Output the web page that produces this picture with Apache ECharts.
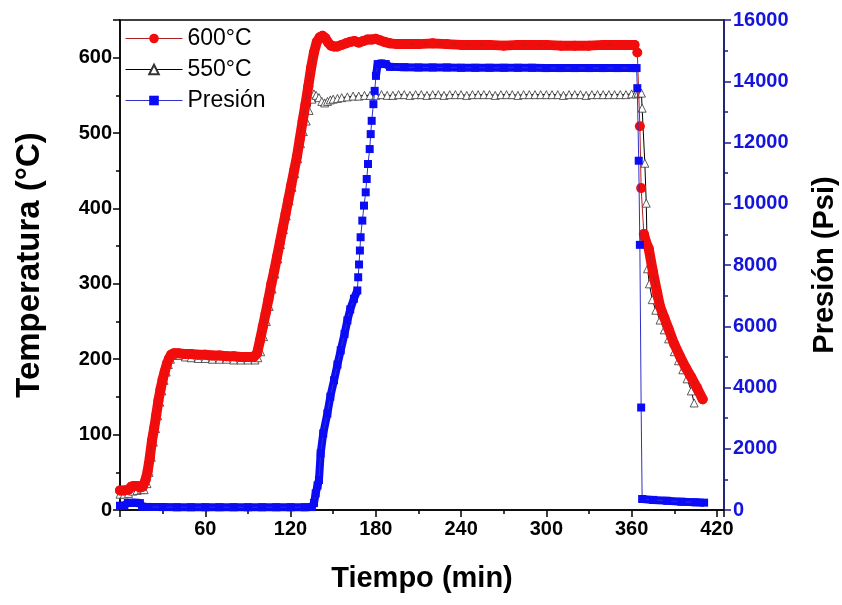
<!DOCTYPE html>
<html>
<head>
<meta charset="utf-8">
<script src="https://cdn.jsdelivr.net/npm/echarts@6/dist/echarts.min.js"></script>
<style>
  html, body { margin: 0; padding: 0; background: #fff; }
  #chart { width: 842px; height: 605px; }
</style>
</head>
<body>
<div id="chart"></div>
<script>
// tiempo (min) y temperatura (°C) del ensayo a 600°C
const t600 = [
  0, 3, 6, 8, 10, 12, 14, 16, 18, 19.5,
  21, 22.5, 24, 25.5, 27, 28.5, 30, 31.5, 33, 34.5,
  36, 38, 41, 45, 50, 55, 60, 65, 70, 75,
  80, 85, 90, 94, 96.5, 98.5, 100.5, 102.5, 104.5, 106.5,
  108.5, 110.5, 112.5, 114.5, 116.5, 118.5, 120.5, 122.5, 124.5, 126.5,
  128.5, 130.5, 132.5, 134.5, 136.5, 138.5, 140.5, 142.5, 144.5, 146.5,
  148.5, 150.5, 153, 156, 159, 162, 165, 168, 171, 174,
  177, 180, 183, 186, 190, 195, 200, 210, 220, 230,
  240, 250, 260, 270, 280, 290, 300, 310, 320, 330,
  340, 350, 356, 362, 364, 365.8, 366.7, 368.6, 370, 372,
  375, 378, 380, 383, 386, 390, 394, 398, 402, 406,
  410
];
const temp600 = [
  26, 26, 27, 31, 32, 32, 30, 31, 40, 52,
  70, 92, 108, 126, 145, 160, 173, 184, 194, 201,
  206, 208, 208, 207, 207, 206, 206, 205, 205, 204,
  204, 203, 203, 203, 208, 225, 243, 261, 280, 300,
  317, 336, 355, 374, 393, 412, 431, 450, 469, 492,
  516, 538, 562, 587, 607, 621, 627, 629, 626, 620,
  616, 615, 615, 617, 619, 621, 622, 620, 622, 624,
  624, 625, 623, 621, 619, 618, 618, 618, 619, 618,
  617, 617, 617, 616, 617, 617, 617, 616, 616, 616,
  617, 617, 617, 617, 607, 509, 427, 366, 356, 347,
  316, 288, 270, 255, 240, 220, 204, 189, 176, 162,
  147
];

// ensayo a 550°C
const t550 = [
  0, 3, 6, 9, 12, 15, 17, 19, 20.5, 22,
  23.5, 25, 26.5, 28, 29.5, 31, 32.5, 34, 35.5, 37,
  39, 42, 46, 50, 55, 60, 65, 70, 75, 80,
  85, 90, 95, 97, 99, 101, 103, 105, 107, 109,
  111, 113, 115, 117, 119, 121, 123, 125, 127, 129,
  131, 133, 135, 136.5, 138, 140, 142, 144, 146, 148,
  150, 153, 156, 160, 164, 168, 172, 176, 180, 184,
  188, 192, 196, 200, 204, 208, 212, 216, 220, 224,
  228, 232, 236, 240, 244, 248, 252, 256, 260, 264,
  268, 272, 276, 280, 284, 288, 292, 296, 300, 304,
  308, 312, 316, 320, 324, 328, 332, 336, 340, 344,
  348, 352, 356, 360, 363, 364.5, 366.9, 367.4, 369.3, 370.3,
  371.2, 372.5, 374.5, 377, 380, 383, 386, 390, 393, 396,
  399, 402, 404
];
const temp550 = [
  21, 21, 22, 25, 26, 27, 27, 35, 50, 70,
  90, 108, 125, 143, 158, 172, 183, 193, 200, 205,
  206, 205, 203, 202, 201, 201, 200, 200, 200, 199,
  199, 199, 199, 202, 210, 230, 250, 270, 293, 313,
  333, 352, 372, 390, 410, 428, 446, 466, 486, 502,
  516, 530, 545, 552, 550, 547, 542, 540, 542, 544,
  545, 546, 547, 548, 549, 549, 550, 550, 550, 551,
  550, 550, 551, 551, 550, 551, 551, 550, 551, 551,
  550, 551, 551, 551, 550, 551, 551, 551, 551, 550,
  551, 551, 551, 550, 551, 551, 551, 551, 551, 551,
  551, 550, 551, 551, 551, 550, 551, 551, 551, 551,
  551, 551, 551, 552, 552, 553, 553, 533, 460, 407,
  320, 300, 279, 265, 252, 239, 227, 210, 198, 186,
  174, 158, 142
];

// presión (Psi)
const tPres = [
  0, 3, 5.5, 8, 11, 14, 15.5, 20, 30, 40,
  50, 60, 70, 80, 90, 100, 110, 120, 130, 135,
  136.5, 137.7, 139, 140, 141.2, 143, 145.9, 148, 150.6, 153,
  155.3, 158, 160, 162, 164.6, 167, 167.6, 168.2, 168.8, 169.3,
  170.5, 171.7, 172.9, 173.6, 174.5, 175.7, 176.4, 177.1, 178.3, 179.2,
  180.1, 181.3, 184, 187, 190, 200, 210, 220, 230, 240,
  250, 260, 270, 280, 290, 300, 310, 320, 330, 340,
  350, 360, 363.5, 364, 365, 365.8, 366.7, 367.4, 375, 385,
  395, 405, 411
];
const presion = [
  140, 140, 230, 235, 235, 225, 110, 100, 95, 90,
  90, 90, 90, 90, 90, 90, 90, 90, 90, 95,
  230, 544, 800, 980, 1850, 2500, 3150, 3700, 4236, 4750,
  5214, 5750, 6191, 6550, 6898, 7169, 7600, 8017, 8473, 8906,
  9450, 9939, 10373, 10808, 11297, 11786, 12274, 12708, 13251, 13686,
  14175, 14560, 14580, 14560, 14470, 14460, 14450, 14450, 14450, 14440,
  14440, 14440, 14440, 14440, 14440, 14430, 14430, 14430, 14430, 14430,
  14430, 14430, 14430, 13774, 11405, 8658, 3346, 360, 330, 300,
  270, 250, 240
];

const xTicks = { min: 0, max: 425, interval: 60 };
const tempTicks = { min: 0, max: 650, interval: 100 };
const presTicks = { min: 0, max: 16000, interval: 2000 };

const FONT = "'Liberation Sans', Arial, sans-serif";
const RED = "#f20d0d";
const BLUE = "#0b0bf5";
const NAVY = "#1c1c8c";

const toPairs = (xs, ys) => xs.map((x, i) => [x, ys[i]]);
// misma serie, pero cortada donde los puntos están separados
const band = (xs, ys, sparse) => xs.map((x, i) => [x, sparse(x) ? "-" : ys[i]]);

const chart = echarts.init(document.getElementById("chart"));

const axisCommon = (color) => ({
  axisLine: { show: true, lineStyle: { color: color, width: 1.5 } },
  axisTick: { show: true, inside: false, length: 7, lineStyle: { color: color, width: 1.5 } },
  minorTick: { show: true, splitNumber: 2, length: 4, lineStyle: { color: color, width: 1.5 } },
  splitLine: { show: false },
  minorSplitLine: { show: false },
});

const option = {
  animation: false,
  backgroundColor: "#fff",
  grid: {
    left: 120, right: 118, top: 20, bottom: 95,
    show: true, borderColor: "#000", borderWidth: 1.5,
    containLabel: false, outerBoundsMode: "none",
  },
  legend: {
    data: ["600°C", "550°C", "Presión"],
    orient: "vertical",
    left: 120, top: 22,
    itemWidth: 57, itemHeight: 12, itemGap: 8,
    textStyle: { fontSize: 23, color: "#000", fontFamily: FONT },
    lineStyle: { width: 1 },
  },
  xAxis: {
    type: "value",
    ...xTicks,
    ...axisCommon("#000"),
    axisLabel: {
      color: "#000", fontSize: 20, fontWeight: "bold", fontFamily: FONT,
      margin: 9, showMinLabel: false, showMaxLabel: false,
    },
    name: "Tiempo (min)",
    nameLocation: "middle",
    nameGap: 54,
    nameTextStyle: { fontSize: 29, fontWeight: "bold", color: "#000", fontFamily: FONT },
  },
  yAxis: [
    {
      type: "value",
      position: "left",
      ...tempTicks,
      ...axisCommon("#000"),
      axisLabel: {
        color: "#000", fontSize: 20, fontWeight: "bold", fontFamily: FONT,
        margin: 8, showMaxLabel: false,
      },
      name: "Temperatura (°C)",
      nameLocation: "middle",
      nameRotate: 90,
      nameGap: 74,
      nameTextStyle: { fontSize: 33, fontWeight: "bold", color: "#000", fontFamily: FONT },
    },
    {
      type: "value",
      position: "right",
      ...presTicks,
      ...axisCommon(NAVY),
      axisLabel: {
        color: "#1414dc", fontSize: 20, fontWeight: "bold", fontFamily: FONT, margin: 9,
        formatter: (v) => String(v),
      },
      name: "Presión (Psi)",
      nameLocation: "middle",
      nameRotate: 90,
      nameGap: 86,
      nameTextStyle: { fontSize: 29, fontWeight: "bold", color: "#000", fontFamily: FONT },
    },
  ],
  series: [
    {
      name: "600°C",
      type: "line",
      data: toPairs(t600, temp600),
      symbol: "circle",
      symbolSize: 10,
      itemStyle: { color: RED },
      lineStyle: { color: "#b02020", width: 1 },
      z: 5,
    },
    {
      name: "550°C",
      type: "line",
      data: toPairs(t550, temp550),
      symbol: "triangle",
      symbolSize: 8,
      itemStyle: { color: "#fff", borderColor: "#333", borderWidth: 0.8 },
      lineStyle: { color: "#000", width: 1 },
      z: 3,
    },
    {
      name: "Presión",
      type: "line",
      yAxisIndex: 1,
      data: toPairs(tPres, presion),
      symbol: "rect",
      symbolSize: 8,
      itemStyle: { color: BLUE },
      lineStyle: { color: "#3030c8", width: 1 },
      z: 7,
    },
    {
      // banda continua donde los marcadores se solapan
      name: "600°C band",
      type: "line",
      data: band(t600, temp600, (x) => x > 362.5 && x < 368),
      symbol: "none",
      connectNulls: false,
      lineStyle: { color: RED, width: 10, cap: "round", join: "round" },
      z: 4,
    },
    {
      name: "Presión band",
      type: "line",
      yAxisIndex: 1,
      data: band(tPres, presion, (x) => (x > 167.3 && x < 180) || (x > 363.6 && x < 367.3)),
      symbol: "none",
      connectNulls: false,
      lineStyle: { color: BLUE, width: 8, join: "round" },
      z: 6,
    },
  ],
};

chart.setOption(option);
</script>
</body>
</html>
